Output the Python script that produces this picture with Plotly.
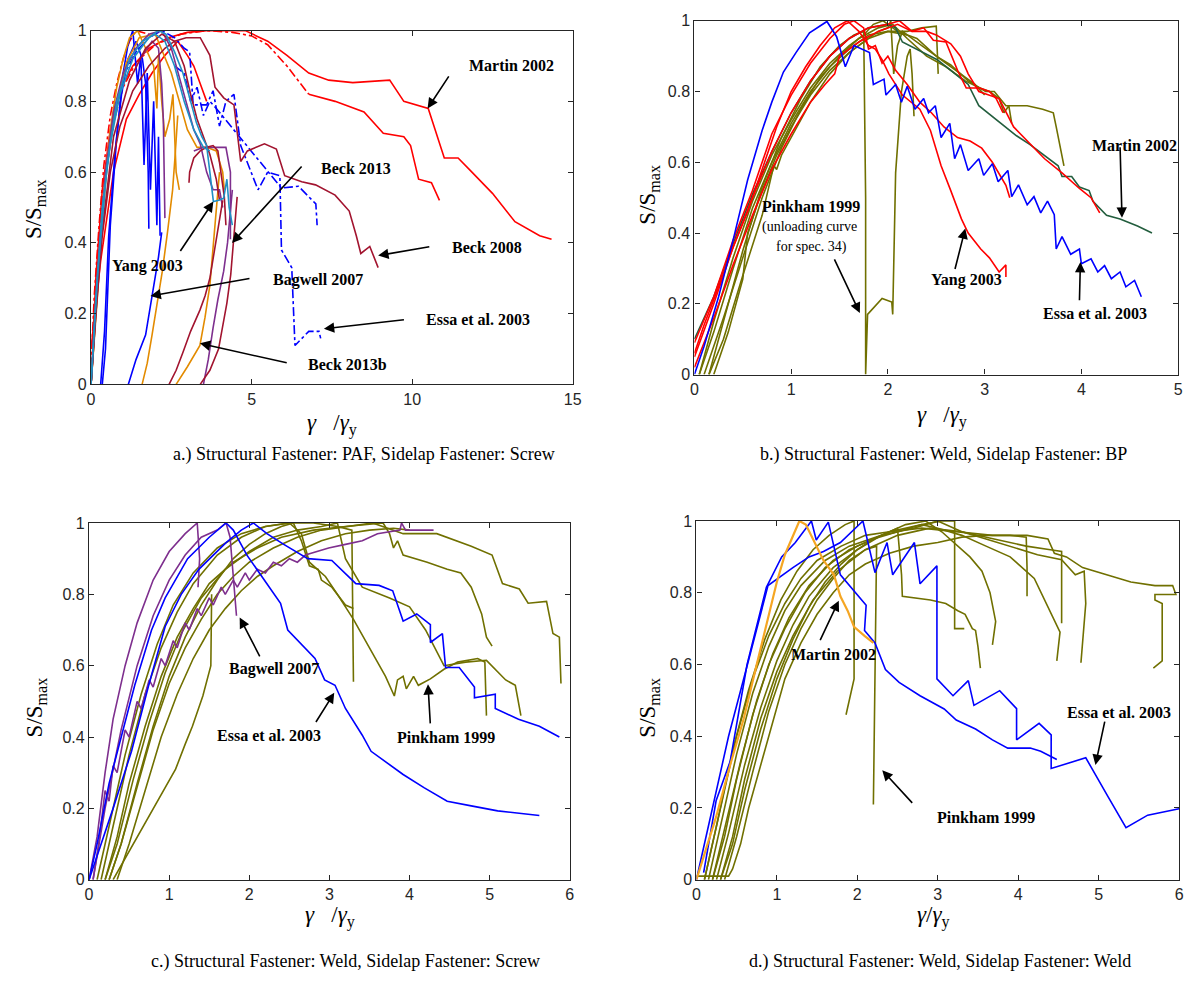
import plotly.graph_objects as go

W, H = 1196, 987

# ------------------------------------------------------------------
# DATA: (gamma/gamma_y , S/Smax) points
# ------------------------------------------------------------------
# Panel a: Structural PAF, sidelap screw
a_martin_upper = [(0,0),(0.15,0.3),(0.35,0.55),(0.6,0.72),(0.9,0.83),(1.3,0.9),(1.8,0.95),(2.4,0.98),(3.0,0.995),(3.6,1.0),(4.2,1.0),(4.8,1.0),(5.5,0.97),(6.1,0.93),(6.78,0.88),(7.4,0.86),(8.15,0.853),(8.8,0.857),(9.3,0.86),(9.74,0.80),(10.16,0.79),(10.5,0.78),(11.0,0.64),(11.43,0.64),(11.86,0.60),(12.5,0.54),(13.2,0.46),(13.97,0.42),(14.34,0.41)]
a_martin_lower_a = [(0,0),(0.1,0.2),(0.25,0.42),(0.45,0.6),(0.7,0.74),(1.0,0.84),(1.4,0.91),(2.0,0.96),(2.8,0.99),(3.6,1.0),(4.4,0.995),(5.0,0.985),(5.5,0.96),(6.1,0.9),(6.78,0.82)]
a_martin_lower_b = [(6.78,0.82),(7.6,0.80),(8.5,0.77),(9.1,0.71),(9.74,0.70),(9.95,0.675),(10.2,0.58),(10.6,0.57),(10.85,0.52)]
a_red_dashdot = [(0,0.05),(0.1,0.25),(0.25,0.45),(0.4,0.62),(0.6,0.76),(0.8,0.85),(1.0,0.92),(1.2,0.97),(1.4,1.0),(1.8,0.99)]
a_red_2 = [(0,0.1),(0.3,0.35),(0.7,0.6),(1.1,0.75),(1.5,0.82),(1.9,0.88),(2.3,0.93),(2.7,0.97),(3.0,0.93),(3.2,0.9),(3.4,0.85),(3.6,0.8)]
a_essa_1 = [(0,0),(0.2,0.3),(0.4,0.55),(0.7,0.75),(1.0,0.87),(1.4,0.94),(1.8,0.98),(2.2,1.0),(2.6,0.98),(2.9,0.95),(3.07,0.94),(3.18,0.79),(3.6,0.79),(3.8,0.83),(4.0,0.73),(4.2,0.8),(4.45,0.82),(4.66,0.675),(5.2,0.55),(5.5,0.6),(5.88,0.59),(5.93,0.38),(6.25,0.33),(6.35,0.11),(6.78,0.15),(7.1,0.15),(7.15,0.13)]
a_essa_2 = [(2.6,0.9),(2.9,0.88),(3.1,0.8),(3.3,0.84),(3.5,0.76),(3.7,0.8),(3.9,0.78),(5.93,0.555),(6.46,0.56),(7.0,0.51),(7.04,0.45)]
a_bagwell_1 = [(0.35,0),(0.45,0.1),(0.6,0.45),(0.8,0.7),(1.0,0.88),(1.15,0.96),(1.3,1.0),(1.45,0.85),(1.55,0.93),(1.65,0.62),(1.75,0.88),(1.85,0.55),(1.95,0.8),(2.05,0.45),(2.1,0.7),(2.15,0.42)]
a_bagwell_2 = [(0.3,0),(0.42,0.15),(0.55,0.42),(0.75,0.66),(0.95,0.82),(1.15,0.92),(1.4,0.97),(1.6,0.92),(1.7,0.85),(1.78,0.6),(1.8,0.44)]
a_bagwell_reload = [(1.16,0),(1.4,0.07),(1.7,0.14),(1.9,0.25),(2.1,0.36),(2.2,0.43)]
a_orange_1 = [(1.59,0),(1.75,0.06),(1.9,0.14),(2.05,0.22),(2.22,0.32),(2.38,0.43),(2.54,0.55),(2.62,0.65),(2.7,0.76)]
a_orange_2 = [(0,0),(0.2,0.25),(0.4,0.55),(0.6,0.72),(0.8,0.84),(1.0,0.92),(1.2,0.98),(1.45,1.0),(1.6,0.97),(1.8,0.93),(1.95,0.9),(2.05,0.78),(2.1,0.93),(2.2,0.8),(2.3,0.7),(2.45,0.75),(2.55,0.82),(2.65,0.6),(2.75,0.55)]
a_orange_3 = [(2.65,0),(3.0,0.05),(3.39,0.11),(3.55,0.19),(3.7,0.28),(3.8,0.38),(3.9,0.49),(4.0,0.6)]
a_orange_4 = [(0,0),(0.25,0.35),(0.5,0.62),(0.8,0.8),(1.1,0.91),(1.5,0.98),(2.0,0.99),(2.5,0.88),(3.0,0.72),(3.3,0.67),(3.6,0.67),(3.9,0.66),(4.1,0.6),(4.15,0.55)]
a_yang_1 = [(0,0),(0.15,0.25),(0.35,0.5),(0.6,0.68),(0.9,0.82),(1.3,0.92),(1.8,0.98),(2.1,1.0),(2.33,0.99),(2.6,0.94),(2.86,0.88),(3.1,0.8),(3.28,0.74),(3.45,0.7),(3.6,0.675),(3.7,0.6),(3.81,0.517),(3.95,0.52),(4.13,0.526),(4.23,0.58),(4.3,0.5),(4.4,0.45)]
a_yang_2 = [(0,0),(0.2,0.3),(0.5,0.62),(0.8,0.8),(1.2,0.92),(1.6,0.97),(2.0,0.99),(2.3,0.97),(2.6,0.9),(2.9,0.8),(3.2,0.72),(3.5,0.67),(3.7,0.66)]
a_purple_1 = [(0,0),(0.2,0.3),(0.45,0.6),(0.7,0.77),(1.0,0.88),(1.4,0.95),(1.8,0.99),(2.2,1.0),(2.5,0.95),(2.8,0.85),(3.0,0.78),(3.2,0.72),(3.4,0.68),(3.6,0.6),(3.8,0.55),(4.0,0.55),(4.1,0.5)]
a_purple_2 = [(1.6,0.93),(1.9,0.97),(2.1,0.95),(2.2,0.85),(2.25,0.75),(2.28,0.6),(2.3,0.47)]
a_purple_3 = [(3.5,0),(3.65,0.07),(3.8,0.16),(3.95,0.24),(4.13,0.32),(4.25,0.4),(4.34,0.49),(4.4,0.55)]
a_purple_4 = [(3.2,0.66),(3.5,0.67),(3.9,0.67),(4.2,0.67),(4.34,0.6),(4.34,0.41)]
a_beck2008 = [(0,0),(0.15,0.2),(0.35,0.42),(0.6,0.6),(0.9,0.73),(1.3,0.83),(1.8,0.9),(2.3,0.95),(2.6,0.97),(2.96,0.98),(3.4,0.98),(3.7,0.93),(3.86,0.84),(4.13,0.81),(4.45,0.79),(4.66,0.63),(4.87,0.66),(5.4,0.68),(5.77,0.665),(6.03,0.59),(6.56,0.573),(6.99,0.564),(7.6,0.535),(8.04,0.49),(8.26,0.42),(8.4,0.37),(8.68,0.39),(8.94,0.33)]
a_maroon_arc = [(3.05,0.57),(3.07,0.6),(3.2,0.64),(3.4,0.66),(3.6,0.67),(3.8,0.675),(3.95,0.66),(4.05,0.6),(4.15,0.53),(4.2,0.45)]
a_maroon_reload_1 = [(2.43,0),(2.65,0.04),(2.86,0.09),(3.1,0.15),(3.39,0.21),(3.55,0.25),(3.7,0.3),(3.85,0.38),(4.02,0.47),(4.1,0.52)]
a_maroon_reload_2 = [(3.4,0),(3.7,0.04),(3.97,0.1),(4.1,0.16),(4.23,0.23),(4.35,0.31),(4.45,0.41),(4.55,0.53)]
a_maroon_2 = [(0,0),(0.3,0.4),(0.7,0.7),(1.2,0.86),(1.7,0.95),(2.2,0.99),(2.6,0.97),(2.9,0.9),(3.1,0.82),(3.3,0.75),(3.5,0.7),(3.7,0.65),(3.9,0.58),(4.0,0.52)]

# Panel b: structural weld, sidelap BP
b_essa = [(0,0),(0.1,0.08),(0.25,0.22),(0.4,0.38),(0.55,0.55),(0.7,0.69),(0.8,0.77),(0.92,0.855),(1.05,0.91),(1.19,0.966),(1.37,0.998),(1.47,0.955),(1.56,0.87),(1.65,0.93),(1.81,0.91),(1.85,0.82),(1.96,0.835),(1.98,0.79),(2.08,0.82),(2.14,0.77),(2.2,0.815),(2.28,0.75),(2.37,0.78),(2.42,0.74),(2.49,0.76),(2.55,0.67),(2.64,0.71),(2.69,0.61),(2.75,0.65),(2.83,0.577),(2.94,0.61),(2.99,0.563),(3.08,0.596),(3.14,0.545),(3.24,0.577),(3.28,0.503),(3.35,0.536),(3.44,0.48),(3.51,0.503),(3.58,0.457),(3.65,0.49),(3.72,0.452),(3.74,0.355),(3.8,0.39),(3.89,0.34),(3.98,0.355),(4.0,0.313),(4.1,0.327),(4.17,0.29),(4.24,0.308),(4.31,0.271),(4.4,0.29),(4.46,0.248),(4.55,0.266),(4.62,0.22)]
b_yang_1 = [(0,0.06),(0.1,0.14),(0.225,0.23),(0.4,0.36),(0.55,0.46),(0.7,0.58),(0.85,0.7),(1.0,0.8),(1.15,0.87),(1.3,0.93),(1.45,0.98),(1.58,1.0),(1.7,0.97),(1.8,0.93),(1.87,0.92),(1.94,0.89),(2.01,0.85),(2.15,0.79),(2.33,0.75),(2.44,0.69),(2.55,0.59),(2.65,0.52),(2.76,0.44),(2.83,0.40),(2.96,0.355),(3.05,0.33),(3.15,0.29),(3.22,0.31),(3.22,0.276)]
b_yang_2 = [(0,0.09),(0.2,0.22),(0.4,0.38),(0.6,0.52),(0.8,0.68),(1.0,0.79),(1.2,0.88),(1.4,0.95),(1.55,0.99),(1.65,1.0),(1.75,0.98),(1.8,0.92),(1.87,0.93),(1.94,0.88),(2.0,0.9),(2.08,0.86),(2.2,0.82),(2.33,0.77),(2.45,0.74),(2.58,0.70),(2.72,0.67),(2.85,0.66),(2.97,0.64),(3.08,0.60),(3.22,0.535),(3.26,0.50)]
b_yang_3 = [(0,0.05),(0.2,0.2),(0.4,0.36),(0.6,0.5),(0.8,0.63),(1.0,0.74),(1.2,0.83),(1.4,0.9),(1.6,0.95),(1.8,0.98),(2.0,0.99),(2.12,1.0),(2.25,0.97),(2.4,0.97),(2.5,0.96),(2.65,0.935),(2.75,0.9),(2.83,0.85),(2.94,0.80),(3.05,0.79),(3.15,0.78),(3.3,0.70),(3.44,0.66),(3.62,0.61),(3.8,0.57),(3.98,0.526),(4.1,0.5),(4.19,0.457)]
b_yang_4 = [(0,0.02),(0.2,0.16),(0.4,0.31),(0.6,0.45),(0.8,0.58),(1.0,0.68),(1.2,0.77),(1.35,0.82),(1.45,0.85),(1.5,0.9),(1.7,0.94),(1.9,0.97),(2.1,0.99),(2.25,0.97),(2.37,0.98),(2.47,0.945),(2.6,0.94),(2.72,0.86),(2.81,0.81),(2.95,0.81),(3.05,0.8),(3.12,0.78),(3.19,0.74)]
b_martin = [(0,0.1),(0.2,0.22),(0.4,0.37),(0.6,0.51),(0.8,0.63),(1.0,0.74),(1.2,0.83),(1.4,0.9),(1.6,0.95),(1.8,0.98),(2.0,0.99),(2.08,0.98),(2.15,0.94),(2.37,0.91),(2.51,0.89),(2.65,0.86),(2.83,0.82),(2.94,0.76),(3.08,0.73),(3.22,0.70),(3.33,0.675),(3.47,0.65),(3.62,0.62),(3.76,0.59),(3.8,0.56),(3.9,0.56),(3.98,0.53),(4.08,0.52),(4.12,0.49),(4.26,0.45),(4.4,0.44),(4.58,0.42),(4.73,0.40)]
b_pink_1 = [(0.15,0),(0.3,0.15),(0.5,0.35),(0.7,0.53),(0.9,0.67),(1.1,0.78),(1.3,0.87),(1.5,0.93),(1.65,0.96),(1.75,0.97),(1.77,0.5),(1.77,0),(1.79,0.17),(1.94,0.215),(2.04,0.205),(2.05,0.17),(2.08,0.57),(2.14,0.8),(2.2,0.9),(2.23,0.92),(2.25,0.85),(2.27,0.73)]
b_pink_2 = [(0.05,0),(0.2,0.12),(0.4,0.3),(0.6,0.47),(0.8,0.6),(1.0,0.71),(1.2,0.8),(1.4,0.87),(1.6,0.92),(1.8,0.96),(2.0,0.97),(2.2,0.96),(2.35,0.93),(2.5,0.9),(2.65,0.875),(2.83,0.83),(3.01,0.8),(3.1,0.8),(3.22,0.76),(3.44,0.76),(3.6,0.75),(3.71,0.74),(3.74,0.70),(3.8,0.62),(3.82,0.59)]
b_pink_3 = [(0.1,0),(0.3,0.16),(0.5,0.33),(0.7,0.5),(0.9,0.64),(1.1,0.75),(1.3,0.84),(1.5,0.9),(1.7,0.95),(1.9,0.98),(2.05,0.99),(2.2,0.95),(2.4,0.9),(2.6,0.87),(2.8,0.83),(2.95,0.81),(3.05,0.8),(3.15,0.78),(3.2,0.74),(3.25,0.76),(3.28,0.71)]
b_pink_4 = [(0.2,0),(0.35,0.12),(0.5,0.27),(0.55,0.4),(0.7,0.52),(0.85,0.62),(1.0,0.7),(1.2,0.79),(1.4,0.86),(1.6,0.91),(1.8,0.95),(2.0,0.97),(2.2,0.97),(2.35,0.98),(2.5,0.985),(2.51,0.9),(2.52,0.85)]
b_pink_5 = [(0.15,0),(0.3,0.1),(0.5,0.28),(0.7,0.45),(0.82,0.59),(0.85,0.58),(0.9,0.62),(1.0,0.67),(1.2,0.77),(1.4,0.85),(1.6,0.91),(1.8,0.95),(1.9,0.97),(2.0,0.98),(2.03,1.0),(2.06,0.85),(2.1,0.93),(2.15,0.97),(2.2,0.96)]
b_pink_6 = [(0.05,0),(0.2,0.15),(0.4,0.33),(0.6,0.49),(0.8,0.62),(1.0,0.72),(1.2,0.81),(1.4,0.88),(1.6,0.93),(1.75,0.96),(1.85,0.99),(1.95,1.0),(2.1,0.97),(2.3,0.95),(2.5,0.9),(2.7,0.86),(2.9,0.82),(3.0,0.79)]

# Panel c: structural weld, sidelap screw
c_essa_1 = [(0,0),(0.1,0.1),(0.25,0.27),(0.44,0.43),(0.57,0.545),(0.78,0.70),(0.95,0.79),(1.23,0.90),(1.5,0.96),(1.71,1.0),(1.8,0.98),(1.97,0.91),(2.22,0.83),(2.39,0.775),(2.48,0.70),(2.65,0.66),(2.82,0.62),(2.94,0.56),(3.07,0.545),(3.2,0.48),(3.41,0.405),(3.52,0.36),(3.71,0.33),(3.92,0.295),(4.18,0.258),(4.47,0.22),(4.77,0.207),(5.1,0.193),(5.62,0.18)]
c_essa_2 = [(0,0),(0.15,0.1),(0.3,0.2),(0.53,0.36),(0.75,0.55),(0.95,0.71),(1.15,0.8),(1.37,0.87),(1.71,0.945),(1.9,0.98),(2.05,1.0),(2.22,0.97),(2.43,0.94),(2.73,0.90),(3.03,0.895),(3.33,0.83),(3.62,0.825),(3.79,0.81),(3.92,0.725),(4.09,0.745),(4.26,0.715),(4.26,0.665),(4.41,0.69),(4.45,0.595),(4.62,0.595),(4.81,0.54),(4.81,0.51),(5.07,0.52),(5.07,0.48),(5.36,0.45),(5.62,0.43),(5.87,0.40)]
c_bag_1 = [(0.05,0),(0.12,0.1),(0.2,0.25),(0.25,0.22),(0.3,0.32),(0.35,0.3),(0.45,0.42),(0.5,0.4),(0.6,0.5),(0.65,0.48),(0.75,0.56),(0.8,0.54),(0.9,0.62),(0.95,0.6),(1.05,0.67),(1.1,0.65),(1.2,0.72),(1.25,0.7),(1.35,0.76),(1.4,0.74),(1.5,0.79),(1.55,0.77),(1.65,0.82),(1.7,0.8),(1.8,0.84),(1.85,0.82),(1.95,0.86),(2.0,0.84),(2.1,0.87),(2.2,0.86),(2.3,0.89),(2.4,0.88),(2.5,0.9),(2.6,0.89),(2.7,0.91),(2.85,0.92),(2.99,0.93),(3.2,0.94),(3.41,0.95),(3.6,0.97),(3.88,0.98),(3.9,1.0),(3.95,0.98),(4.3,0.98)]
c_bag_2 = [(0,0),(0.1,0.12),(0.2,0.3),(0.3,0.45),(0.45,0.6),(0.6,0.72),(0.8,0.84),(1.0,0.92),(1.2,0.97),(1.35,1.0),(1.38,0.9),(1.36,0.82)]
c_bag_3 = [(0.05,0),(0.2,0.2),(0.4,0.42),(0.6,0.6),(0.8,0.74),(1.0,0.84),(1.2,0.91),(1.4,0.96),(1.6,0.98),(1.71,1.0),(1.76,0.96),(1.8,0.85),(1.84,0.74)]
c_pink_1 = [(0.25,0),(0.4,0.1),(0.6,0.26),(0.8,0.42),(1.0,0.55),(1.2,0.65),(1.4,0.73),(1.6,0.8),(1.8,0.85),(2.0,0.89),(2.3,0.93),(2.6,0.96),(2.9,0.98),(3.2,0.99),(3.54,1.0),(3.92,0.97),(4.34,0.97),(4.77,0.935),(5.03,0.91),(5.16,0.83),(5.37,0.815),(5.48,0.775),(5.71,0.78),(5.79,0.69),(5.87,0.68),(5.89,0.55)]
c_pink_2 = [(0.2,0),(0.35,0.12),(0.5,0.27),(0.7,0.43),(0.9,0.57),(1.1,0.68),(1.3,0.76),(1.5,0.83),(1.8,0.89),(2.1,0.93),(2.4,0.96),(2.8,0.98),(3.2,0.99),(3.67,1.0),(3.75,0.97),(3.8,0.93),(3.85,0.95),(3.92,0.91),(4.22,0.89),(4.47,0.87),(4.64,0.86),(4.77,0.82),(4.9,0.745),(4.96,0.68),(5.03,0.655)]
c_pink_3 = [(0.15,0),(0.3,0.15),(0.5,0.35),(0.7,0.52),(0.9,0.65),(1.1,0.75),(1.3,0.83),(1.6,0.91),(1.9,0.96),(2.2,0.99),(2.5,1.0),(2.8,1.0),(3.1,0.99),(3.28,0.98),(3.3,0.555)]
c_pink_4 = [(0.1,0),(0.25,0.15),(0.45,0.35),(0.65,0.52),(0.85,0.66),(1.05,0.77),(1.3,0.86),(1.6,0.93),(1.9,0.97),(2.2,0.99),(2.5,1.0),(2.65,0.97),(2.75,0.89),(2.85,0.87),(2.95,0.85),(3.1,0.8),(3.3,0.73),(3.5,0.65),(3.7,0.57),(3.81,0.515),(3.85,0.56),(3.92,0.57),(3.96,0.535),(4.05,0.57),(4.11,0.545),(4.26,0.563),(4.43,0.59),(4.6,0.61),(4.85,0.62),(4.94,0.61),(4.96,0.46)]
c_pink_5 = [(0.2,0),(0.35,0.1),(0.55,0.28),(0.75,0.44),(0.95,0.58),(1.15,0.69),(1.4,0.79),(1.7,0.87),(2.0,0.92),(2.3,0.96),(2.6,0.98),(2.9,0.99),(3.1,1.0),(3.2,0.9),(3.41,0.82),(3.75,0.79),(4.0,0.765),(4.2,0.7),(4.43,0.6),(4.7,0.61),(4.96,0.615),(5.2,0.56),(5.32,0.545),(5.39,0.46)]
c_pink_6 = [(0.25,0),(0.4,0.1),(0.6,0.27),(0.8,0.43),(1.0,0.57),(1.2,0.68),(1.4,0.77),(1.6,0.84),(1.8,0.9),(2.0,0.94),(2.2,0.97),(2.4,0.99),(2.55,1.0),(2.65,0.95),(2.75,0.88),(2.86,0.87),(2.9,0.84),(3.03,0.82),(3.2,0.77),(3.3,0.76)]
c_pink_7 = [(0.3,0),(0.5,0.08),(0.74,0.175),(0.9,0.24),(1.08,0.31),(1.2,0.38),(1.29,0.43),(1.42,0.515),(1.5,0.58),(1.52,0.6),(1.53,0.8)]
c_pink_8 = [(0.35,0),(0.5,0.1),(0.7,0.25),(0.9,0.4),(1.1,0.52),(1.3,0.62),(1.5,0.7),(1.7,0.76),(1.9,0.81),(2.1,0.85),(2.3,0.88),(2.6,0.92),(2.9,0.95),(3.2,0.97),(3.5,0.98),(3.8,0.985),(4.0,0.98)]

# Panel d: structural weld, sidelap weld
d_martin = [(0,0),(0.245,0.175),(0.42,0.32),(0.59,0.45),(0.75,0.6),(0.89,0.73),(1.0,0.83),(1.1,0.906),(1.2,0.96),(1.28,1.0),(1.36,0.99),(1.49,0.93),(1.58,0.89),(1.71,0.85),(1.79,0.79),(1.88,0.75),(1.96,0.705),(2.09,0.68),(2.2,0.66)]
d_essa_1 = [(0.09,0.02),(0.245,0.22),(0.42,0.33),(0.63,0.60),(0.87,0.815),(1.06,0.90),(1.23,0.94),(1.43,1.0),(1.49,0.947),(1.64,0.997),(1.79,0.85),(1.96,0.805),(2.11,0.765),(2.09,0.695),(2.22,0.66),(2.35,0.586),(2.52,0.55),(2.78,0.513),(3.08,0.476),(3.23,0.445),(3.47,0.42),(3.68,0.39),(3.87,0.367),(4.15,0.367),(4.28,0.358),(4.48,0.335)]
d_essa_2 = [(0,0),(0.2,0.2),(0.4,0.4),(0.67,0.63),(0.89,0.82),(1.2,0.87),(1.4,0.9),(1.58,0.915),(1.79,0.94),(2.07,1.0),(2.22,0.856),(2.37,0.94),(2.44,0.85),(2.71,0.94),(2.78,0.825),(2.99,0.875),(2.99,0.56),(3.19,0.513),(3.38,0.555),(3.45,0.486),(3.77,0.527),(3.98,0.477),(3.98,0.39),(4.26,0.436),(4.41,0.404),(4.41,0.31),(4.84,0.34),(5.12,0.23),(5.34,0.145),(5.61,0.18),(6.0,0.198)]
d_pink_1 = [(0.1,0),(0.2,0.1),(0.35,0.25),(0.5,0.4),(0.7,0.56),(0.9,0.68),(1.1,0.77),(1.3,0.84),(1.5,0.89),(1.8,0.93),(2.1,0.96),(2.4,0.97),(2.8,0.98),(3.2,0.97),(3.68,0.96),(4.11,0.96),(4.37,0.95),(4.45,0.91),(4.6,0.9),(4.8,0.87),(5.1,0.85),(5.4,0.83),(5.7,0.82),(5.92,0.82),(5.96,0.795),(5.7,0.795),(5.7,0.78),(5.79,0.77),(5.79,0.61),(5.68,0.59)]
d_pink_2 = [(0.15,0),(0.3,0.15),(0.5,0.35),(0.7,0.52),(0.9,0.65),(1.1,0.75),(1.3,0.82),(1.6,0.89),(1.9,0.93),(2.3,0.96),(2.7,0.98),(3.0,1.0),(3.3,0.97),(3.6,0.95),(3.9,0.93),(4.24,0.906),(4.54,0.892),(4.71,0.85),(4.82,0.86),(4.84,0.77),(4.78,0.605)]
d_pink_3 = [(0.2,0),(0.35,0.14),(0.55,0.33),(0.75,0.5),(0.95,0.63),(1.15,0.73),(1.4,0.82),(1.7,0.89),(2.0,0.93),(2.4,0.97),(2.8,0.99),(3.0,0.98),(3.3,0.96),(3.6,0.93),(3.9,0.9),(4.2,0.84),(4.37,0.76),(4.52,0.69),(4.48,0.61)]
d_pink_4 = [(0.3,0),(0.45,0.12),(0.6,0.28),(0.8,0.45),(1.0,0.58),(1.2,0.68),(1.45,0.78),(1.75,0.86),(2.1,0.92),(2.5,0.96),(2.9,0.98),(3.3,0.97),(3.7,0.95),(4.1,0.93),(4.4,0.92),(4.54,0.915),(4.54,0.715)]
d_pink_5 = [(0.25,0),(0.4,0.13),(0.6,0.32),(0.8,0.48),(1.0,0.61),(1.2,0.71),(1.4,0.79),(1.7,0.87),(2.0,0.92),(2.3,0.96),(2.6,0.99),(2.85,1.0),(3.05,0.97),(3.2,0.94),(3.4,0.9),(3.55,0.86),(3.65,0.8),(3.72,0.72),(3.68,0.655)]
d_pink_6 = [(0.3,0),(0.45,0.1),(0.6,0.25),(0.8,0.42),(1.0,0.56),(1.2,0.67),(1.4,0.76),(1.6,0.83),(1.8,0.88),(2.0,0.92),(2.2,0.95),(2.4,0.97),(2.5,0.98),(2.55,0.85),(2.56,0.79),(2.91,0.78),(3.1,0.77),(3.25,0.75),(3.34,0.74),(3.43,0.70),(3.47,0.695),(3.5,0.65),(3.53,0.59)]
d_pink_7 = [(0.35,0),(0.5,0.12),(0.7,0.3),(0.9,0.47),(1.1,0.6),(1.3,0.7),(1.5,0.78),(1.7,0.84),(1.9,0.89),(2.1,0.92),(2.24,0.93),(2.22,0.5),(2.2,0.21)]
d_pink_8 = [(0.1,0),(0.25,0.15),(0.45,0.36),(0.65,0.53),(0.85,0.67),(1.05,0.78),(1.25,0.86),(1.45,0.92),(1.65,0.96),(1.85,0.99),(1.96,1.0),(1.96,0.56),(1.86,0.46)]
d_pink_9 = [(0.2,0),(0.35,0.12),(0.5,0.28),(0.7,0.46),(0.9,0.6),(1.1,0.7),(1.35,0.8),(1.6,0.87),(1.9,0.92),(2.2,0.95),(2.5,0.97),(2.8,0.99),(3.05,1.0),(3.21,1.0),(3.21,0.7),(3.33,0.7)]
d_pink_10 = [(0,0.01),(0.4,0.01),(0.45,0.03),(0.55,0.1),(0.65,0.2),(0.8,0.32),(0.9,0.4),(1.0,0.48),(1.1,0.56),(1.3,0.66),(1.5,0.74),(1.7,0.8),(1.9,0.85),(2.1,0.88),(2.4,0.91),(2.7,0.93),(3.0,0.94),(3.3,0.955),(3.6,0.96),(3.9,0.96),(4.1,0.955),(4.11,0.87),(4.11,0.79)]

# tick values / labels
a_xticks = [0, 5, 10, 15]
b_xticks = [0, 1, 2, 3, 4, 5]
cd_xticks = [0, 1, 2, 3, 4, 5, 6]
y_ticks = [0, 0.2, 0.4, 0.6, 0.8, 1]

captions = ["a.) Structural Fastener: PAF, Sidelap Fastener: Screw",
            "b.) Structural Fastener: Weld, Sidelap Fastener: BP",
            "c.) Structural Fastener: Weld, Sidelap Fastener: Screw",
            "d.) Structural Fastener: Weld, Sidelap Fastener: Weld"]

# ------------------------------------------------------------------
RED = "#ff0000"; BLUE = "#0000ff"; MAROON = "#a2142f"; ORANGE = "#e38b00"
TEAL = "#1f8fc4"; PURPLE = "#7e2f8e"; OLIVE = "#707000"; DGREEN = "#235e3e"
YORANGE = "#f5a623"

panels = {
    1: [(a_martin_upper, RED, "solid"), (a_martin_lower_a, RED, "dashdot"),
        (a_martin_lower_b, RED, "solid"), (a_red_dashdot, RED, "dashdot"),
        (a_red_2, RED, "solid"), (a_essa_1, BLUE, "dashdot"), (a_essa_2, BLUE, "dashdot"),
        (a_bagwell_1, BLUE, "solid"), (a_bagwell_2, BLUE, "solid"),
        (a_bagwell_reload, BLUE, "solid"), (a_orange_1, ORANGE, "solid"),
        (a_orange_2, ORANGE, "solid"), (a_orange_3, ORANGE, "solid"),
        (a_orange_4, ORANGE, "solid"), (a_purple_1, PURPLE, "solid"),
        (a_purple_2, PURPLE, "solid"), (a_purple_3, PURPLE, "solid"),
        (a_purple_4, PURPLE, "solid"), (a_beck2008, MAROON, "solid"),
        (a_maroon_arc, MAROON, "solid"), (a_maroon_reload_1, MAROON, "solid"),
        (a_maroon_reload_2, MAROON, "solid"), (a_maroon_2, MAROON, "solid"),
        (a_yang_1, TEAL, "solid"), (a_yang_2, TEAL, "solid")],
    2: [(b_pink_1, OLIVE, "solid"), (b_pink_2, OLIVE, "solid"), (b_pink_3, OLIVE, "solid"),
        (b_pink_4, OLIVE, "solid"), (b_pink_5, OLIVE, "solid"), (b_pink_6, OLIVE, "solid"),
        (b_martin, DGREEN, "solid"), (b_yang_1, RED, "solid"), (b_yang_2, RED, "solid"),
        (b_yang_3, RED, "solid"), (b_yang_4, RED, "solid"), (b_essa, BLUE, "solid")],
    3: [(c_pink_1, OLIVE, "solid"), (c_pink_2, OLIVE, "solid"), (c_pink_3, OLIVE, "solid"),
        (c_pink_4, OLIVE, "solid"), (c_pink_5, OLIVE, "solid"), (c_pink_6, OLIVE, "solid"),
        (c_pink_7, OLIVE, "solid"), (c_pink_8, OLIVE, "solid"),
        (c_bag_1, PURPLE, "solid"), (c_bag_2, PURPLE, "solid"), (c_bag_3, PURPLE, "solid"),
        (c_essa_1, BLUE, "solid"), (c_essa_2, BLUE, "solid")],
    4: [(d_pink_1, OLIVE, "solid"), (d_pink_2, OLIVE, "solid"), (d_pink_3, OLIVE, "solid"),
        (d_pink_4, OLIVE, "solid"), (d_pink_5, OLIVE, "solid"), (d_pink_6, OLIVE, "solid"),
        (d_pink_7, OLIVE, "solid"), (d_pink_8, OLIVE, "solid"), (d_pink_9, OLIVE, "solid"),
        (d_pink_10, OLIVE, "solid"), (d_essa_1, BLUE, "solid"), (d_essa_2, BLUE, "solid"),
        (d_martin, YORANGE, "solid")],
}

# pixel boxes of the four plot areas (left, right, top, bottom)
boxes = {1: (88, 575, 23, 383), 2: (698, 1187, 13, 373),
         3: (86, 572, 524, 887), 4: (700, 1188, 522, 887)}
xranges = {1: [0, 15], 2: [0, 5], 3: [0, 6], 4: [0, 6]}
xticks = {1: a_xticks, 2: b_xticks, 3: cd_xticks, 4: cd_xticks}

fig = go.Figure()
for k, curves in panels.items():
    xa = "x" if k == 1 else f"x{k}"
    ya = "y" if k == 1 else f"y{k}"
    for pts, col, dash in curves:
        xs = [p[0] for p in pts]
        ys = [p[1] for p in pts]
        w = 2.2 if col == YORANGE else 1.6
        fig.add_trace(go.Scatter(x=xs, y=ys, mode="lines", xaxis=xa, yaxis=ya,
                                 line=dict(color=col, width=w, dash=dash),
                                 showlegend=False, hoverinfo="skip"))

AX = dict(showgrid=False, zeroline=False, showline=True, linecolor="#262626",
          linewidth=1.3, mirror="ticks", ticks="inside", ticklen=5,
          tickcolor="#262626", tickwidth=1.2,
          tickfont=dict(family="Liberation Sans, Arial", size=16, color="#262626"))

layout = dict(width=W, height=H, autosize=False, margin=dict(l=0, r=0, t=0, b=0),
              paper_bgcolor="white", plot_bgcolor="white", showlegend=False)
for k in range(1, 5):
    l, r, t, b = boxes[k]
    xn = "xaxis" if k == 1 else f"xaxis{k}"
    yn = "yaxis" if k == 1 else f"yaxis{k}"
    layout[xn] = dict(AX, domain=[l / W, r / W], range=xranges[k],
                      tickvals=xticks[k], anchor="y" if k == 1 else f"y{k}")
    layout[yn] = dict(AX, domain=[1 - b / H, 1 - t / H], range=[0, 1],
                      tickvals=y_ticks, anchor="x" if k == 1 else f"x{k}")
fig.update_layout(**layout)

SERIF = "Liberation Serif, Times New Roman"
ann = []


def paper_text(px, py, text, size, angle=0):
    ann.append(dict(x=px / W, y=1 - py / H, xref="paper", yref="paper", text=text,
                    showarrow=False, textangle=angle, xanchor="center", yanchor="middle",
                    font=dict(family=SERIF, size=size, color="black")))


# captions
paper_text(364, 454, captions[0], 18)
paper_text(950, 454, captions[1], 18)
paper_text(345, 970, captions[2], 18)
paper_text(946, 970, captions[3], 18)

# axis titles
ylab = "S/S<sub>max</sub>"
paper_text(32, 205, ylab, 23, -90)
paper_text(652, 190, ylab, 23, -90)
paper_text(32, 712, ylab, 23, -90)
paper_text(652, 712, ylab, 23, -90)
xlab_gap = "<i>γ</i>\u00a0\u00a0\u00a0/<i>γ</i><sub>y</sub>"
xlab_tight = "<i>γ</i>/<i>γ</i><sub>y</sub>"
paper_text(332, 424, xlab_gap, 23)
paper_text(948, 416, xlab_gap, 23)
paper_text(330, 924, xlab_gap, 23)
paper_text(940, 924, xlab_tight, 23)


def label(k, x, y, text, size=16, bold=True):
    xr = "x" if k == 1 else f"x{k}"
    yr = "y" if k == 1 else f"y{k}"
    ann.append(dict(x=x, y=y, xref=xr, yref=yr, showarrow=False,
                    text=f"<b>{text}</b>" if bold else text,
                    font=dict(family=SERIF, size=size, color="black"),
                    xanchor="center", yanchor="middle"))


def arrow(k, x0, y0, x1, y1):
    xr = "x" if k == 1 else f"x{k}"
    yr = "y" if k == 1 else f"y{k}"
    ann.append(dict(x=x1, y=y1, ax=x0, ay=y0, xref=xr, yref=yr, axref=xr, ayref=yr,
                    text="", showarrow=True, arrowhead=2, arrowsize=1.3,
                    arrowwidth=1.6, arrowcolor="black", standoff=0))


# panel a
label(1, 13.1, 0.90, "Martin 2002"); arrow(1, 11.17, 0.875, 10.48, 0.78)
label(1, 8.26, 0.61, "Beck 2013"); arrow(1, 6.6, 0.62, 4.39, 0.40)
label(1, 12.33, 0.387, "Beck 2008"); arrow(1, 10.58, 0.39, 8.94, 0.364)
label(1, 1.75, 0.336, "Yang 2003"); arrow(1, 2.75, 0.373, 3.81, 0.517)
label(1, 7.07, 0.296, "Bagwell 2007"); arrow(1, 4.98, 0.30, 1.85, 0.25)
label(1, 12.05, 0.183, "Essa et al. 2003"); arrow(1, 9.79, 0.183, 7.25, 0.157)
label(1, 8.0, 0.055, "Beck 2013b"); arrow(1, 6.14, 0.06, 3.39, 0.116)
# panel b
label(2, 4.55, 0.647, "Martin 2002"); arrow(2, 4.40, 0.647, 4.42, 0.443)
label(2, 1.21, 0.475, "Pinkham 1999")
label(2, 1.19, 0.417, "(unloading curve", 14, bold=False)
label(2, 1.21, 0.361, "for spec. 34)", 14, bold=False)
arrow(2, 1.44, 0.33, 1.71, 0.174)
label(2, 2.81, 0.266, "Yang 2003"); arrow(2, 2.69, 0.294, 2.8, 0.413)
label(2, 4.14, 0.174, "Essa et al. 2003"); arrow(2, 3.98, 0.206, 3.99, 0.318)
# panel c
label(3, 2.31, 0.59, "Bagwell 2007"); arrow(3, 2.14, 0.622, 1.88, 0.735)
label(3, 2.24, 0.404, "Essa et al. 2003"); arrow(3, 2.82, 0.438, 3.06, 0.524)
label(3, 4.45, 0.40, "Pinkham 1999"); arrow(3, 4.26, 0.434, 4.23, 0.548)
# panel d
label(4, 1.71, 0.627, "Martin 2002"); arrow(4, 1.53, 0.664, 1.77, 0.778)
label(4, 5.25, 0.466, "Essa et al. 2003"); arrow(4, 5.08, 0.445, 4.96, 0.32)
label(4, 3.6, 0.174, "Pinkham 1999"); arrow(4, 2.70, 0.21, 2.31, 0.305)

fig.update_layout(annotations=ann)
fig.write_html("out.html")
